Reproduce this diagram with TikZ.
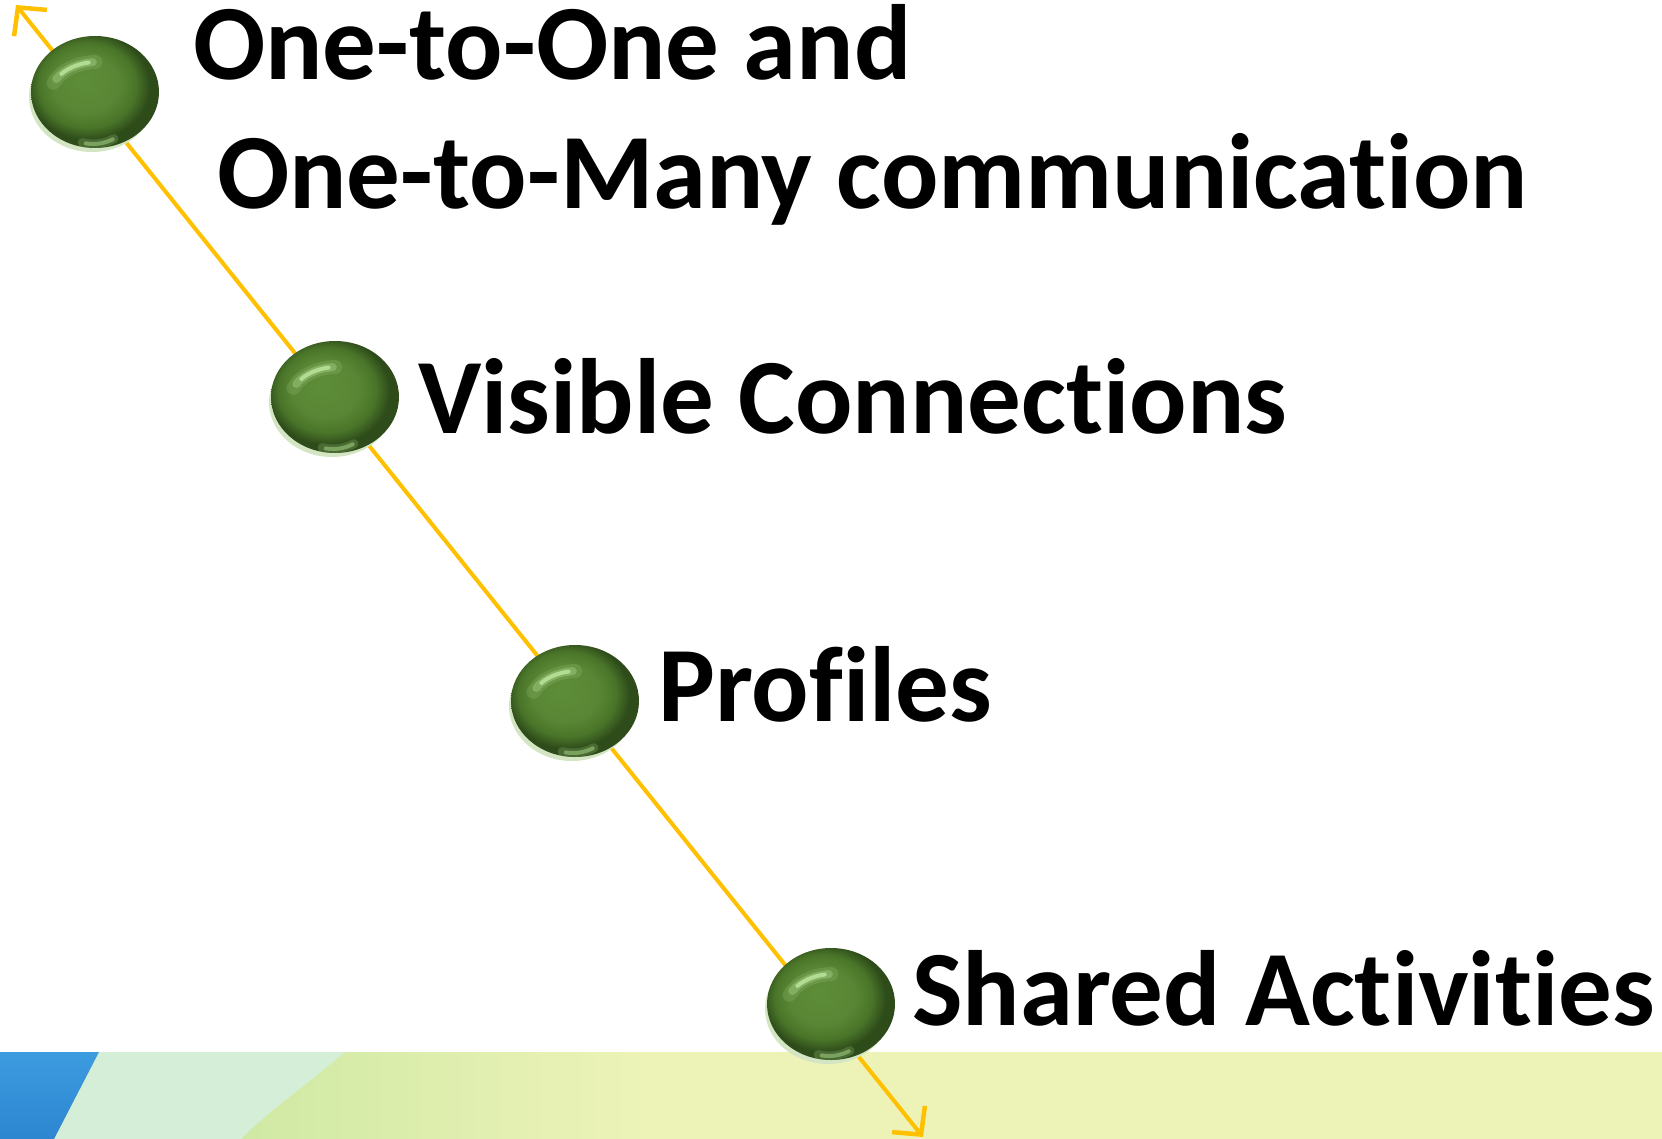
\documentclass[tikz,border=0pt]{standalone}
\usepackage{fontspec}
\setmainfont[Ligatures={CommonOff}]{Carlito}
\usetikzlibrary{arrows.meta,shapes.geometric}
\definecolor{arrowcol}{HTML}{FFC000}
\definecolor{bcenter}{HTML}{5E8D39}
\definecolor{bmid}{HTML}{588634}
\definecolor{bmid2}{HTML}{4A7529}
\definecolor{bedge}{HTML}{2E4C1A}
\definecolor{hlcol}{HTML}{C2EBA4}
\definecolor{hl2}{HTML}{9CC67A}
\definecolor{rimcol}{HTML}{D3E5C2}
\definecolor{bandcol}{HTML}{EDF3B7}
\definecolor{bandgreen}{HTML}{CCE8A2}
\definecolor{mintcol}{HTML}{D4EED8}
\definecolor{bluecol}{HTML}{3D9BE0}
\definecolor{bluedark}{HTML}{2C86D0}
\pgfdeclareradialshading{ballshade}{\pgfpoint{-5bp}{5bp}}{%
  color(0bp)=(bcenter); color(13bp)=(bmid); color(19bp)=(bmid2);
  color(24bp)=(bedge); color(25bp)=(bedge); color(50bp)=(bedge)}
\tikzset{
  ballnode/.style={ellipse, minimum width=128pt, minimum height=112pt,
    inner sep=0pt, shading=ballshade,
    path picture={
      \draw[hl2, line width=9pt, opacity=0.25, line cap=round]
        ([xshift=-2pt,yshift=-12pt]path picture bounding box.center)
        ++(-60:42pt and 40pt) arc[start angle=-60, end angle=-105, x radius=42pt, y radius=40pt];
      \draw[hl2, line width=4pt, opacity=0.6, line cap=round]
        ([xshift=-2pt,yshift=-12pt]path picture bounding box.center)
        ++(-62:42pt and 40pt) arc[start angle=-62, end angle=-100, x radius=42pt, y radius=40pt];
      \draw[hlcol, line width=14pt, opacity=0.15, line cap=round]
        ([xshift=2pt,yshift=-6pt]path picture bounding box.center)
        ++(92:48pt and 36pt) arc[start angle=92, end angle=155, x radius=48pt, y radius=36pt];
      \draw[hlcol, line width=8pt, opacity=0.3, line cap=round]
        ([xshift=2pt,yshift=-6pt]path picture bounding box.center)
        ++(95:48pt and 36pt) arc[start angle=95, end angle=148, x radius=48pt, y radius=36pt];
      \draw[hlcol, line width=4pt, opacity=0.75, line cap=round]
        ([xshift=2pt,yshift=-6pt]path picture bounding box.center)
        ++(100:48pt and 36pt) arc[start angle=100, end angle=138, x radius=48pt, y radius=36pt];
    }},
  rim/.style={fill=rimcol},
  label/.style={anchor=base west, inner sep=0pt, font=\fontsize{107}{110}\selectfont\bfseries},
  axis/.style={draw=arrowcol, line width=4pt,
    {Straight Barb[length=20pt,width=42pt,line width=4.5pt]}-{Straight Barb[length=20pt,width=42pt,line width=4.5pt]}}
}
\newcommand\gball[2]{%
  \fill[rim] (#2) ++(-3,5) ellipse [x radius=63pt, y radius=55pt];
  \node[ballnode] (#1) at (#2) {};}
\begin{document}
\begin{tikzpicture}[x=1pt,y=-1pt]
\useasboundingbox (0,0) rectangle (1662,1139);
% bottom band
\fill[bandcol] (0,1052) rectangle (1662,1139);
\shade[left color=bandgreen, right color=bandcol] (200,1052) rectangle (640,1139);
\fill[mintcol] (99,1052) -- (345,1052) .. controls (300,1090) and (270,1110) .. (241,1139) -- (54,1139) -- cycle;
\shade[top color=bluecol, bottom color=bluedark] (0,1052) -- (99,1052) -- (54,1139) -- (0,1139) -- cycle;
% axis
\coordinate (top) at (16,5);
\coordinate (bot) at (923,1137);
\draw[axis] (top) -- (bot);
% balls
\gball{b1}{95,92}
\gball{b2}{335,397}
\gball{b3}{575,701}
\gball{b4}{831,1004}
% labels
\node[label] (t1) at (193,80) {One-to-One and};
\node[label] (t2) at (217,209) {One-to-Many communication};
\node[label] (t3) at (418,433) {Visible Connections};
\node[label] (t4) at (658,721) {Profiles};
\node[label] (t5) at (912,1025) {Shared Activities};
\end{tikzpicture}
\end{document}
